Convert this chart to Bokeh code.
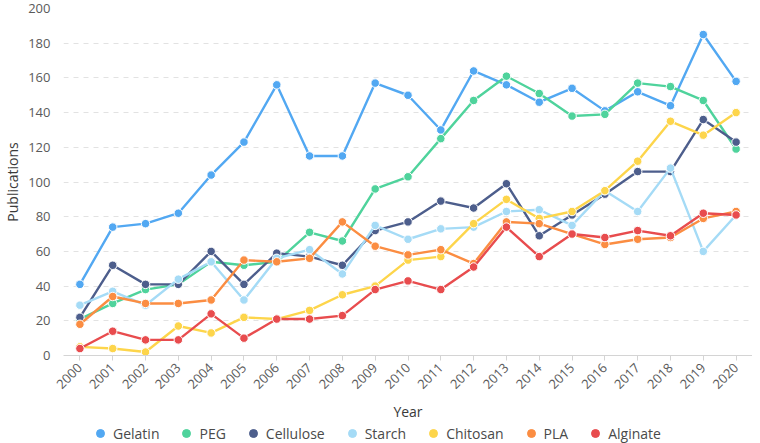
import math
from bokeh.plotting import figure
from bokeh.layouts import column
from bokeh.models import ColumnDataSource, Legend, LegendItem, FixedTicker, Range1d
from bokeh.embed import file_html
from bokeh.resources import INLINE

years = list(range(2000, 2021))
gelatin = [41, 74, 76, 82, 104, 123, 156, 115, 115, 157, 150, 130, 164, 156, 146, 154, 141, 152, 144, 185, 158]
peg = [21, 30, 38, 41, 54, 52, 54, 71, 66, 96, 103, 125, 147, 161, 151, 138, 139, 157, 155, 147, 119]
cellulose = [22, 52, 41, 41, 60, 41, 59, 57, 52, 72, 77, 89, 85, 99, 69, 81, 93, 106, 106, 136, 123]
starch = [29, 37, 29, 44, 54, 32, 56, 61, 47, 75, 67, 73, 74, 83, 84, 75, 95, 83, 108, 60, 81]
chitosan = [5, 4, 2, 17, 13, 22, 21, 26, 35, 40, 55, 57, 76, 90, 79, 83, 95, 112, 135, 127, 140]
pla = [18, 34, 30, 30, 32, 55, 54, 56, 77, 63, 58, 61, 53, 77, 76, 70, 64, 67, 68, 79, 83]
alginate = [4, 14, 9, 9, 24, 10, 21, 21, 23, 38, 43, 38, 51, 74, 57, 70, 68, 72, 69, 82, 81]

series_names = ["Gelatin", "PEG", "Cellulose", "Starch", "Chitosan", "PLA", "Alginate"]
series_values = [gelatin, peg, cellulose, starch, chitosan, pla, alginate]
colors = ["#52a8f2", "#4fd39c", "#4d5e8c", "#a5dbf6", "#fdd54b", "#fb8d42", "#e84c4e"]
y_ticks = list(range(0, 201, 20))

FONT = "Open Sans"

p = figure(width=752, height=423, output_backend="svg", toolbar_location=None,
           x_range=Range1d(1999.5, 2020.5), y_range=Range1d(0, 200),
           min_border_left=10, min_border_right=0, min_border_top=8, min_border_bottom=0,
           background_fill_color="white", border_fill_color="white")
p.outline_line_color = None

# separate strip below the chart that carries only the legend
lg = figure(width=752, height=20, output_backend="svg", toolbar_location=None,
            x_range=Range1d(0, 1), y_range=Range1d(0, 1),
            x_axis_location=None, y_axis_location=None, min_border=0,
            background_fill_color="white", border_fill_color="white")
lg.outline_line_color = None
lg.xgrid.grid_line_color = None
lg.ygrid.grid_line_color = None

items = []
for name, vals, col in zip(series_names, series_values, colors):
    src = ColumnDataSource(dict(x=years, y=vals))
    p.line("x", "y", source=src, line_color=col, line_width=2.4)
    p.scatter("x", "y", source=src, size=8.5, fill_color=col, line_color="white", line_width=1)
    # legend swatch renderer (its points fall outside the strip's range, so only the swatch shows)
    lr = lg.scatter("x", "y", source=src, size=8.5, fill_color=col, line_color=col, line_width=1)
    items.append(LegendItem(label=name, renderers=[lr]))

# axes
xa = p.xaxis[0]
xa.ticker = FixedTicker(ticks=years)
xa.major_label_orientation = math.pi / 4
xa.axis_line_color = "#d4d4d4"
xa.major_tick_line_color = "#d4d4d4"
xa.major_tick_in = 0
xa.major_tick_out = 5
xa.minor_tick_line_color = None
xa.major_label_text_font = FONT
xa.major_label_text_font_size = "13px"
xa.major_label_text_color = "#5a5a5a"
xa.major_label_standoff = 5
xa.axis_label = "Year"
xa.axis_label_text_font = FONT
xa.axis_label_text_font_size = "14px"
xa.axis_label_text_font_style = "normal"
xa.axis_label_text_color = "#3a3a3a"
xa.axis_label_standoff = 6

ya = p.yaxis[0]
ya.ticker = FixedTicker(ticks=y_ticks)
ya.axis_line_color = None
ya.major_tick_line_color = None
ya.minor_tick_line_color = None
ya.major_label_text_font = FONT
ya.major_label_text_font_size = "13px"
ya.major_label_text_color = "#5a5a5a"
ya.major_label_standoff = 7
ya.axis_label = "Publications"
ya.axis_label_text_font = FONT
ya.axis_label_text_font_size = "14px"
ya.axis_label_text_font_style = "normal"
ya.axis_label_text_color = "#3a3a3a"
ya.axis_label_standoff = 3

p.xgrid.grid_line_color = None
p.ygrid.ticker = FixedTicker(ticks=y_ticks)
p.ygrid.grid_line_color = "#e2e2e2"
p.ygrid.grid_line_dash = "5 5"
p.ygrid.grid_line_width = 1

legend = Legend(items=items, orientation="horizontal", location=(24, 0), nrows=1,
                glyph_width=26, glyph_height=20, label_height=18, label_standoff=0, spacing=14,
                padding=0, margin=0, border_line_color=None, background_fill_alpha=0,
                label_text_font=FONT, label_text_font_size="14px", label_text_color="#4a4a4a")
lg.add_layout(legend, "center")

layout = column(p, lg, spacing=0)
open("out.html", "w").write(file_html(layout, INLINE))
